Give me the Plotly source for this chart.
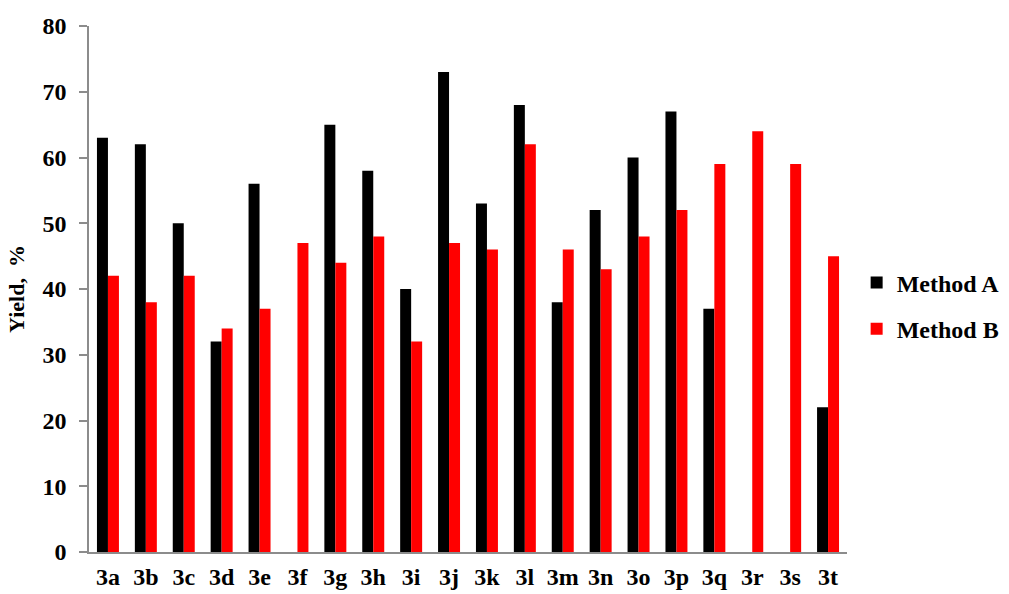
import plotly.graph_objects as go

compounds = ["3a", "3b", "3c", "3d", "3e", "3f", "3g", "3h", "3i", "3j",
             "3k", "3l", "3m", "3n", "3o", "3p", "3q", "3r", "3s", "3t"]
method_a = [63, 62, 50, 32, 56, None, 65, 58, 40, 73,
            53, 68, 38, 52, 60, 67, 37, None, None, 22]
method_b = [42, 38, 42, 34, 37, 47, 44, 48, 32, 47,
            46, 62, 46, 43, 48, 52, 59, 64, 59, 45]
y_ticks = [0, 10, 20, 30, 40, 50, 60, 70, 80]

FONT = "Liberation Serif"

fig = go.Figure()
fig.add_trace(go.Bar(x=compounds, y=method_a, name="<b>Method A</b>",
                     marker=dict(color="#000000", line=dict(width=0)),
                     legendgroup="a"))
fig.add_trace(go.Bar(x=compounds, y=method_b, name="<b>Method B</b>",
                     marker=dict(color="#ff0000", line=dict(width=0)),
                     legendgroup="b"))

fig.update_layout(
    width=1009, height=594,
    margin=dict(l=89, r=162, t=26, b=42),
    paper_bgcolor="white", plot_bgcolor="white",
    barmode="group", bargap=0.42, bargroupgap=0,
    font=dict(family=FONT, size=24, color="black"),
    showlegend=True,
    legend=dict(xref="container", yref="container",
                x=0.849, y=0.485, xanchor="left", yanchor="middle",
                font=dict(family=FONT, size=24, color="black"),
                tracegroupgap=12, itemwidth=30),
    xaxis=dict(
        showline=True, linecolor="#8c8c8c", linewidth=1.5,
        ticks="", showgrid=False, automargin=False,
        tickfont=dict(family=FONT, size=24, color="black"),
        tickvals=compounds, ticktext=[f"<b>{c}</b>" for c in compounds],
        ticklabelstandoff=2,
    ),
    yaxis=dict(
        range=[0, 80], tickvals=y_ticks,
        ticktext=[f"<b>{v}</b>" for v in y_ticks],
        showline=True, linecolor="#8c8c8c", linewidth=1.5,
        ticks="outside", ticklen=8, tickcolor="#8c8c8c", tickwidth=1.5,
        showgrid=False, zeroline=False, automargin=False,
        ticklabelstandoff=8,
        tickfont=dict(family=FONT, size=24, color="black"),
        title=dict(text="<b>Yield,  %</b>", font=dict(family=FONT, size=22, color="black"),
                   standoff=12),
    ),
)

fig.write_html("out.html")
